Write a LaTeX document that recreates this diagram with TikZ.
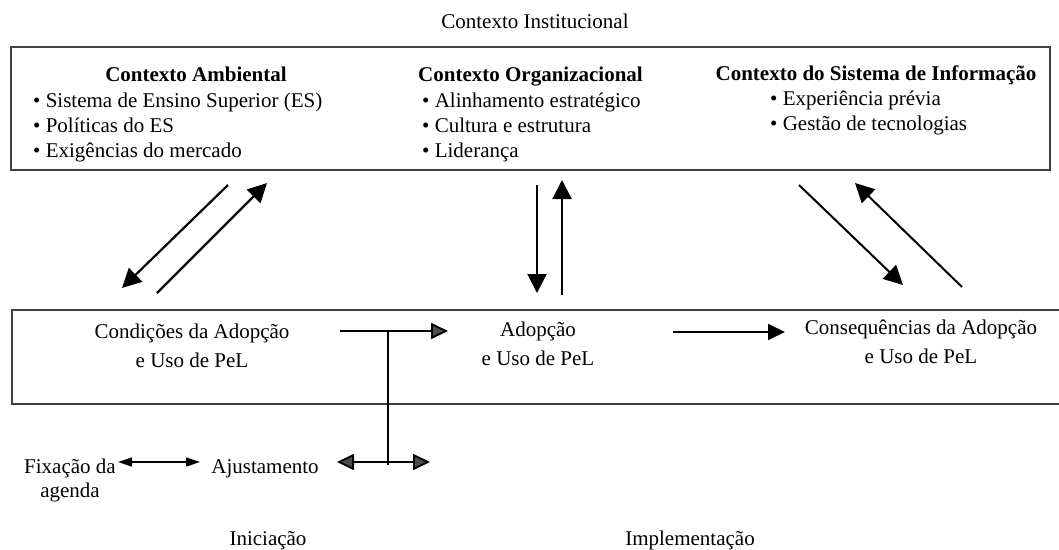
\documentclass[tikz,border=0pt]{standalone}
\usepackage{fontspec}
\setmainfont{Liberation Serif}
\usetikzlibrary{arrows.meta}

\begin{document}
\fontsize{21}{24}\selectfont
\begin{tikzpicture}[x=1pt,y=-1pt,
  every node/.style={inner sep=0pt},
  frame/.style={line width=1.2pt, draw=black!75},
  head/.style={line width=2.2pt, -{Triangle[length=19pt,width=19pt]}},
  flow/.style={line width=1.8pt, -{Triangle[length=17pt,width=16pt]}},
  greyflow/.style={line width=1.8pt, -{Triangle[length=17pt,width=16pt,fill=black!70]}},
  twoway/.style={line width=1.8pt, {Triangle[length=17pt,width=16pt,fill=black!70]}-{Triangle[length=17pt,width=16pt,fill=black!70]}},
  slim/.style={line width=1.3pt, {Triangle[length=14pt,width=9pt]}-{Triangle[length=14pt,width=9pt]}},
  stage/.style={align=center, font=\fontsize{21}{29}\selectfont}]
\useasboundingbox (0,0) rectangle (1059,549);

\node[anchor=base] (inst) at (535,28) {Contexto Institucional};

\node[frame, draw, minimum width=1039pt, minimum height=123pt] (ctx) at (530.5,108.5) {};

\node[anchor=base, font=\bfseries] (amb) at (196,81) {Contexto Ambiental};
\node[anchor=base west] (amb1) at (33,107) {\textbullet\ Sistema de Ensino Superior (ES)};
\node[anchor=base west] (amb2) at (33,132) {\textbullet\ Políticas do ES};
\node[anchor=base west] (amb3) at (33,157) {\textbullet\ Exigências do mercado};

\node[anchor=base west, font=\bfseries] (org) at (418,81) {Contexto Organizacional};
\node[anchor=base west] (org1) at (422,107) {\textbullet\ Alinhamento estratégico};
\node[anchor=base west] (org2) at (422,132) {\textbullet\ Cultura e estrutura};
\node[anchor=base west] (org3) at (422,157) {\textbullet\ Liderança};

\node[anchor=base, font=\bfseries] (si) at (876,80) {Contexto do Sistema de Informação};
\node[anchor=base west] (si1) at (770,105) {\textbullet\ Experiência prévia};
\node[anchor=base west] (si2) at (770,130) {\textbullet\ Gestão de tecnologias};

\draw[frame] (1059,310) -- (12,310) -- (12,404) -- (1059,404);

\node[stage, anchor=base] (cond) at (192,367) {Condições da Adopção\\e Uso de PeL};
\node[stage, anchor=base] (adop) at (538,365) {Adopção\\e Uso de PeL};
\node[stage, anchor=base] (cons) at (921,363) {Consequências da Adopção\\e Uso de PeL};

\node[anchor=base, align=center] (fix) at (70,497) {Fixação da\\agenda};
\node[anchor=base] (ajus) at (265,473) {Ajustamento};

\node[anchor=base] (inic) at (268,545) {Iniciação};
\node[anchor=base] (impl) at (690,545) {Implementação};

\coordinate (a1) at (228,185);
\coordinate (a2) at (122,288);
\coordinate (a3) at (157,293);
\coordinate (a4) at (267,183);
\coordinate (o1) at (537,185);
\coordinate (o2) at (537,293);
\coordinate (o3) at (562,295);
\coordinate (o4) at (562,180);
\coordinate (s1) at (799,185);
\coordinate (s2) at (903,285);
\coordinate (s3) at (962,287);
\coordinate (s4) at (855,183);
\draw[head] (a1) -- (a2);
\draw[head] (a3) -- (a4);
\draw[head] (o1) -- (o2);
\draw[head] (o3) -- (o4);
\draw[head, line width=2pt] (s1) -- (s2);
\draw[head, line width=2pt] (s3) -- (s4);

\coordinate (c1) at (340,331);
\coordinate (c2) at (448,331);
\coordinate (j1) at (388,331);
\coordinate (j2) at (388,465);
\coordinate (d1) at (337,462);
\coordinate (d2) at (430,462);
\coordinate (e1) at (673,332);
\coordinate (e2) at (785,332);
\coordinate (f1) at (118,462);
\coordinate (f2) at (200,462);
\draw[greyflow] (c1) -- (c2);
\draw[line width=1.8pt] (j1) -- (j2);
\draw[twoway] (d1) -- (d2);
\draw[flow] (e1) -- (e2);
\draw[slim] (f1) -- (f2);
\end{tikzpicture}
\end{document}
